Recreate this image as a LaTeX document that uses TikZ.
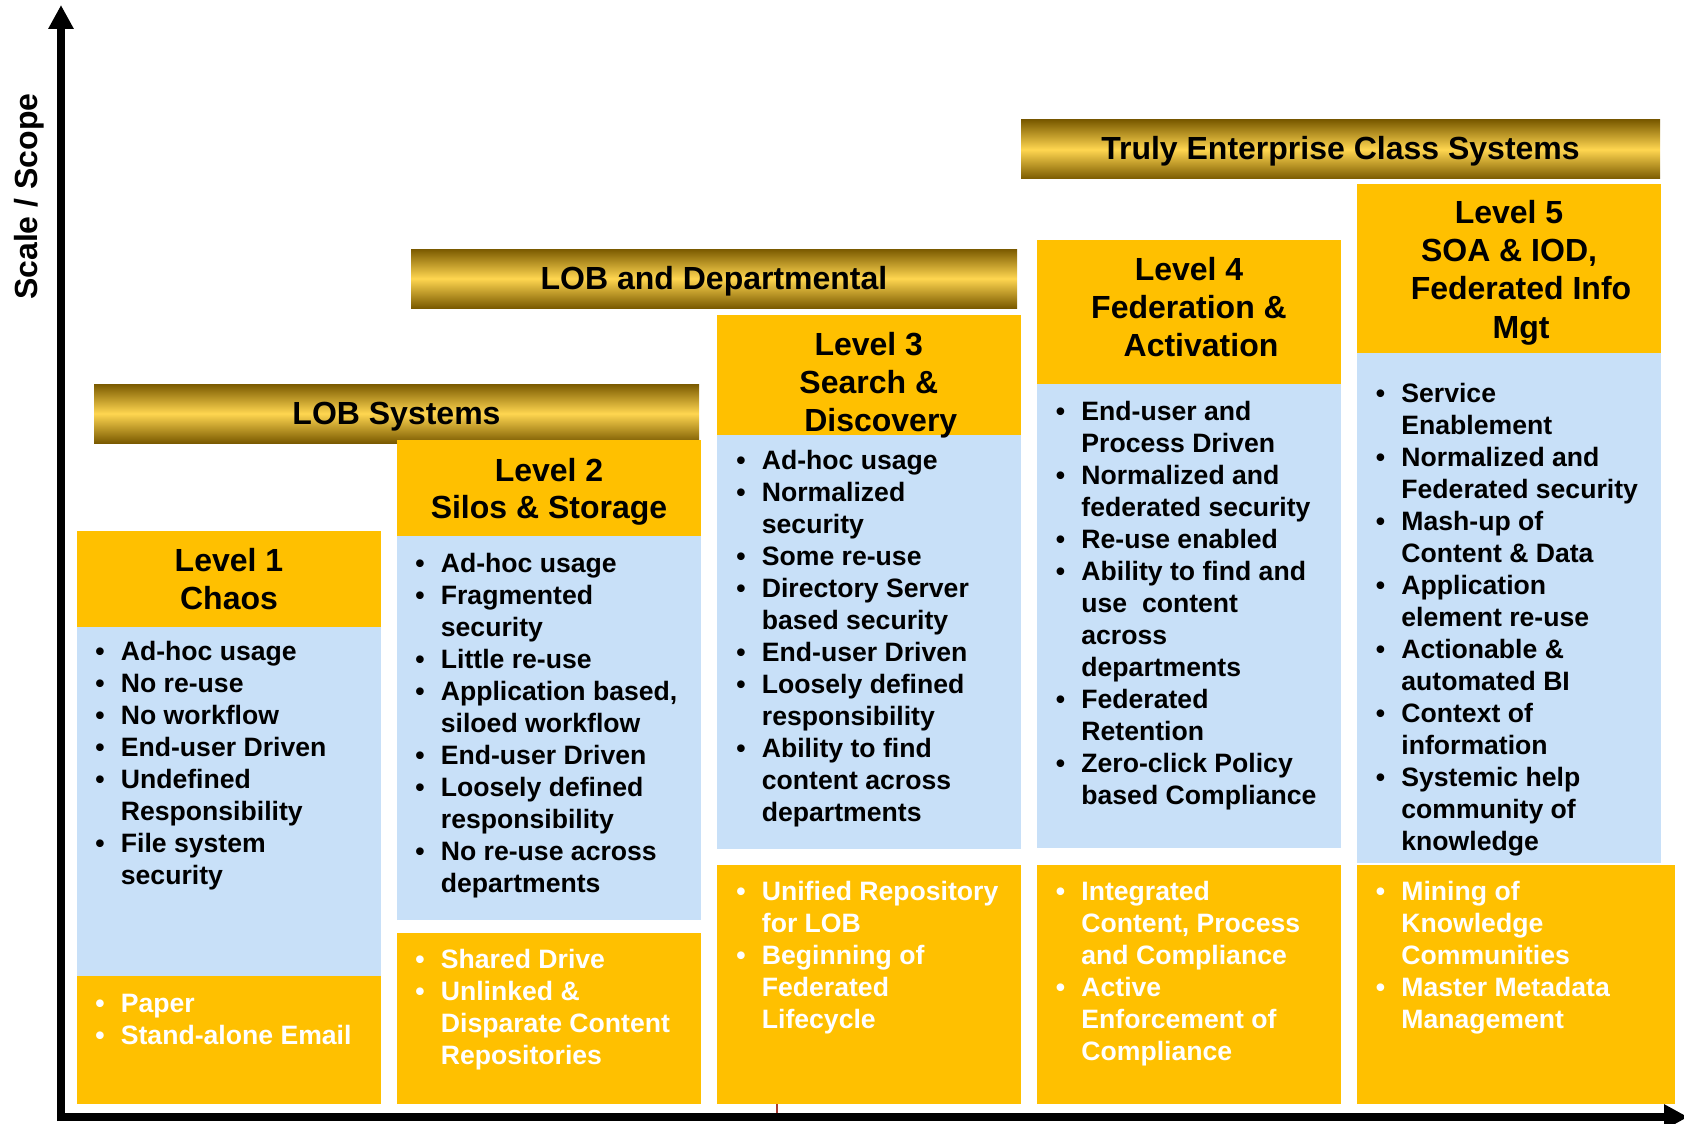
\documentclass[tikz,border=0pt]{standalone}
\usepackage{fontspec}
\setmainfont{Liberation Sans}
\usetikzlibrary{arrows.meta}
\definecolor{lvorange}{RGB}{255,192,0}
\definecolor{lvblue}{RGB}{200,224,248}
\definecolor{golddark}{RGB}{122,90,0}
\definecolor{goldlight}{RGB}{255,214,80}
\definecolor{tickred}{RGB}{170,60,50}
\newenvironment{blist}{\begin{tabular}[t]{@{}p{12.75pt}@{}l@{}}}{\end{tabular}}
\tikzset{
  goldbar/.style={top color=golddark, bottom color=golddark, middle color=goldlight},
  orangebox/.style={fill=lvorange},
  bluebox/.style={fill=lvblue},
  bartext/.style={inner sep=0pt, anchor=base, font=\fontsize{16}{19}\selectfont\bfseries},
  hdrtext/.style={inner sep=0pt, anchor=base, font=\bfseries},
  listtext/.style={inner sep=0pt, anchor=base west, font=\fontsize{13.3}{16}\selectfont\bfseries},
  whitelist/.style={listtext, text=white},
  axis/.style={line width=4pt, -{Triangle[length=12pt,width=12pt]}}
}
\begin{document}
\begin{tikzpicture}[x=0.5pt,y=-0.5pt]
\useasboundingbox (0,0) rectangle (1684,1123);

% gold bars
\shade[goldbar] (94,384) rectangle (699,443);
\shade[goldbar] (411,249) rectangle (1017,308);
\shade[goldbar] (1021,120) rectangle (1660,179);
\node[bartext] (barA) at (396.5,424) {LOB Systems};
\node[bartext] (barB) at (714,289.3) {LOB and Departmental};
\node[bartext] (barC) at (1340.5,160) {Truly Enterprise Class Systems};

% column 1
\fill[orangebox] (77,531) rectangle (381,626.5);
\fill[bluebox] (77,626.5) rectangle (381,975.5);
\fill[orangebox] (77,975.5) rectangle (381,1104);
% column 2
\fill[orangebox] (397,440) rectangle (701,536);
\fill[bluebox] (397,536) rectangle (701,920);
\fill[orangebox] (397,933) rectangle (701,1103.5);
% column 3
\fill[orangebox] (717,315) rectangle (1020.5,435);
\fill[bluebox] (717,435) rectangle (1020.5,848.5);
\fill[orangebox] (717,864.5) rectangle (1020.5,1104);
% column 4
\fill[orangebox] (1037,240) rectangle (1341,383.5);
\fill[bluebox] (1037,383.5) rectangle (1341,848);
\fill[orangebox] (1037,864.5) rectangle (1341,1104);
% column 5
\fill[orangebox] (1357,184) rectangle (1661,353);
\fill[bluebox] (1357,353) rectangle (1661,862.5);
\fill[orangebox] (1357,864.5) rectangle (1675,1104);

% headers
\node[hdrtext] (h1) at (229,571.7) {\fontsize{16}{18.65}\selectfont\begin{tabular}[t]{@{}c@{}}Level 1\\Chaos\end{tabular}};
\node[hdrtext] (h2) at (549,481) {\fontsize{16}{18.65}\selectfont\begin{tabular}[t]{@{}c@{}}Level 2\\Silos \& Storage\end{tabular}};
\node[hdrtext] (h3) at (868.8,355) {\fontsize{16}{19.15}\selectfont\begin{tabular}[t]{@{}c@{}}Level 3\\Search \&\\\hspace*{12pt}Discovery\end{tabular}};
\node[hdrtext] (h4) at (1189,280) {\fontsize{16}{19.15}\selectfont\begin{tabular}[t]{@{}c@{}}Level 4\\Federation \&\\\hspace*{12pt}Activation\end{tabular}};
\node[hdrtext] (h5) at (1509,223.3) {\fontsize{16}{19.15}\selectfont\begin{tabular}[t]{@{}c@{}}Level 5\\SOA \& IOD,\\\hspace*{12pt}Federated Info\\\hspace*{12pt}Mgt\end{tabular}};

% blue lists
\node[listtext] (b1) at (95,660) {\begin{blist}
\textbullet & Ad-hoc usage\\
\textbullet & No re-use\\
\textbullet & No workflow\\
\textbullet & End-user Driven\\
\textbullet & Undefined\\
 & Responsibility\\
\textbullet & File system\\
 & security
\end{blist}};
\node[listtext] (b2) at (415,572) {\begin{blist}
\textbullet & Ad-hoc usage\\
\textbullet & Fragmented\\
 & security\\
\textbullet & Little re-use\\
\textbullet & Application based,\\
 & siloed workflow\\
\textbullet & End-user Driven\\
\textbullet & Loosely defined\\
 & responsibility\\
\textbullet & No re-use across\\
 & departments
\end{blist}};
\node[listtext] (b3) at (736,469) {\begin{blist}
\textbullet & Ad-hoc usage\\
\textbullet & Normalized\\
 & security\\
\textbullet & Some re-use\\
\textbullet & Directory Server\\
 & based security\\
\textbullet & End-user Driven\\
\textbullet & Loosely defined\\
 & responsibility\\
\textbullet & Ability to find\\
 & content across\\
 & departments
\end{blist}};
\node[listtext] (b4) at (1055.5,420.3) {\begin{blist}
\textbullet & End-user and\\
 & Process Driven\\
\textbullet & Normalized and\\
 & federated security\\
\textbullet & Re-use enabled\\
\textbullet & Ability to find and\\
 & use\ \ content\\
 & across\\
 & departments\\
\textbullet & Federated\\
 & Retention\\
\textbullet & Zero-click Policy\\
 & based Compliance
\end{blist}};
\node[listtext] (b5) at (1375.5,402.3) {\begin{blist}
\textbullet & Service\\
 & Enablement\\
\textbullet & Normalized and\\
 & Federated security\\
\textbullet & Mash-up of\\
 & Content \& Data\\
\textbullet & Application\\
 & element re-use\\
\textbullet & Actionable \&\\
 & automated BI\\
\textbullet & Context of\\
 & information\\
\textbullet & Systemic help\\
 & community of\\
 & knowledge
\end{blist}};

% bottom lists
\node[whitelist] (o1) at (95,1012) {\begin{blist}
\textbullet & Paper\\
\textbullet & Stand-alone Email
\end{blist}};
\node[whitelist] (o2) at (415,968.5) {\begin{blist}
\textbullet & Shared Drive\\
\textbullet & Unlinked \&\\
 & Disparate Content\\
 & Repositories
\end{blist}};
\node[whitelist] (o3) at (736,900.5) {\begin{blist}
\textbullet & Unified Repository\\
 & for LOB\\
\textbullet & Beginning of\\
 & Federated\\
 & Lifecycle
\end{blist}};
\node[whitelist] (o4) at (1055.5,900.5) {\begin{blist}
\textbullet & Integrated\\
 & Content, Process\\
 & and Compliance\\
\textbullet & Active\\
 & Enforcement of\\
 & Compliance
\end{blist}};
\node[whitelist] (o5) at (1375.5,900.5) {\begin{blist}
\textbullet & Mining of\\
 & Knowledge\\
 & Communities\\
\textbullet & Master Metadata\\
 & Management
\end{blist}};

% axis label
\node[inner sep=0pt, anchor=base, rotate=90, font=\fontsize{16}{19}\selectfont\bfseries] (ylab) at (37,196.7) {Scale / Scope};

% axes
\coordinate (origin) at (61,1117);
\coordinate (ybot) at (61,1121);
\coordinate (ytop) at (61,5);
\coordinate (xleft) at (57,1117);
\coordinate (xright) at (1688,1117);
\draw[tickred, line width=1pt] (777,1104) -- (777,1117);
\draw[axis] (ybot) -- (ytop);
\draw[axis] (xleft) -- (xright);
\end{tikzpicture}
\end{document}
